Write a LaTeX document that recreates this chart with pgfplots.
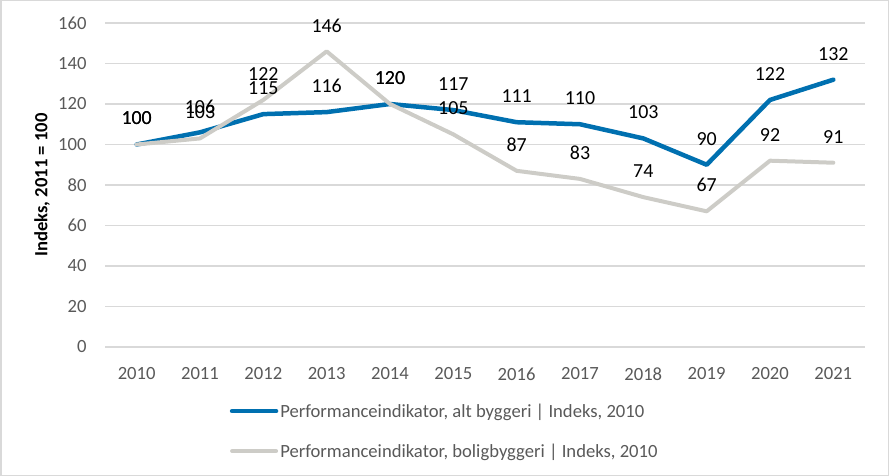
\documentclass[border=0pt]{standalone}
\usepackage{fontspec}
\setmainfont{Carlito}
\usepackage{pgfplots}
\pgfplotsset{compat=1.18}
\definecolor{blueL}{RGB}{0,112,176}
\definecolor{grayL}{RGB}{205,204,199}
\definecolor{gridC}{RGB}{217,217,217}
\definecolor{tickC}{RGB}{89,89,89}
\begin{document}
\begin{tikzpicture}
\draw[gridC, line width=1.5bp] (0.75bp,0.75bp) rectangle (888.25bp,475.25bp);
\begin{axis}[
  at={(105bp,129bp)}, anchor=south west,
  scale only axis, width=760bp, height=324bp,
  xmin=2009.5, xmax=2021.5, ymin=0, ymax=160,
  xtick={2010,...,2021}, ytick={0,20,...,160},
  /pgf/number format/assume math mode=true,
  xticklabel style={/pgf/number format/1000 sep={}},
  ymajorgrids, grid style={gridC, line width=1.5bp},
  axis line style={draw=none},
  major tick length=0pt,
  tick label style={font=\fontsize{18.7}{20}\selectfont, text=tickC},
  yticklabel style={xshift=-15bp},
  xticklabel style={yshift=-17bp},
  ylabel={Indeks, 2011 = 100},
  ylabel style={at={(axis description cs:-0.0829,0.5)}, anchor=center, font=\fontsize{18.7}{20}\selectfont\bfseries},
  legend style={at={(axis description cs:0.164,-0.168)}, anchor=north west, draw=none, fill=none,
    font=\fontsize{18.7}{20}\selectfont, text=tickC, row sep=21bp, inner sep=0pt,
    nodes={inner sep=2bp}},
  legend cell align=left,
  legend image code/.code={\draw[#1] (0bp,0bp) -- (44bp,0bp);},
  nodes near coords,
  every node near coord/.append style={font=\fontsize{20}{22}\selectfont, text=black, anchor=center, yshift=26bp},
]
\addplot[blueL, line width=4.5bp, line cap=round, line join=round] coordinates {
(2010,100) (2011,106) (2012,115) (2013,116) (2014,120) (2015,117)
(2016,111) (2017,110) (2018,103) (2019,90) (2020,122) (2021,132)};
\addlegendentry{Performanceindikator, alt byggeri | Indeks, 2010}
\addplot[grayL, line width=4bp, line cap=round, line join=round] coordinates {
(2010,100) (2011,103) (2012,122) (2013,146) (2014,120) (2015,105)
(2016,87) (2017,83) (2018,74) (2019,67) (2020,92) (2021,91)};
\addlegendentry{Performanceindikator, boligbyggeri | Indeks, 2010}
\end{axis}
\end{tikzpicture}
\end{document}
